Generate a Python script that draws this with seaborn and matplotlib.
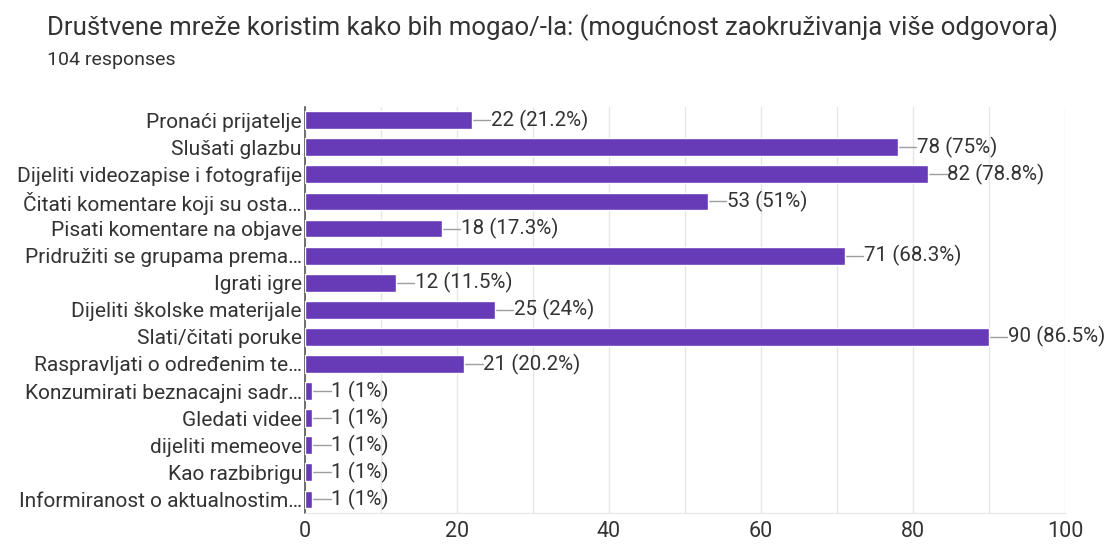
import matplotlib
matplotlib.use("Agg")
import matplotlib.pyplot as plt
import seaborn as sns
import pandas as pd
from matplotlib.ticker import MultipleLocator

# --- data ---
TITLE = "Društvene mreže koristim kako bih mogao/-la: (mogućnost zaokruživanja više odgovora)"
N_RESPONSES = 104
categories = [
    "Pronaći prijatelje",
    "Slušati glazbu",
    "Dijeliti videozapise i fotografije",
    "Čitati komentare koji su osta…",
    "Pisati komentare na objave",
    "Pridružiti se grupama prema…",
    "Igrati igre",
    "Dijeliti školske materijale",
    "Slati/čitati poruke",
    "Raspravljati o određenim te…",
    "Konzumirati beznacajni sadr…",
    "Gledati videe",
    "dijeliti memeove",
    "Kao razbibrigu",
    "Informiranost o aktualnostim…",
]
counts = [22, 78, 82, 53, 18, 71, 12, 25, 90, 21, 1, 1, 1, 1, 1]
x_ticks = [0, 20, 40, 60, 80, 100]

df = pd.DataFrame({"option": categories, "count": counts})

# --- style ---
sns.set_style("white")
plt.rcParams["font.family"] = ["Roboto", "DejaVu Sans"]
TEXT = "#333333"
PURPLE = "#673ab7"

fig = plt.figure(figsize=(11.12, 5.44), dpi=100)
ax = fig.add_axes([0.274, 0.057, 0.684, 0.747])

sns.barplot(data=df, x="count", y="option", orient="h", color=PURPLE,
            saturation=1, width=0.66, ax=ax, zorder=3)

# leader line + value label
for i, v in enumerate(df["count"]):
    pct = round(v / N_RESPONSES * 100, 1)
    ax.plot([v, v + 2.4], [i, i], color="#9e9e9e", lw=1, zorder=2, clip_on=False)
    ax.text(v + 2.5, i, f"{v} ({pct:g}%)", va="center", ha="left",
            fontsize=14.8, color=TEXT)

ax.set_xlim(0, 100)
ax.set_ylim(len(categories) - 0.5, -0.5)
ax.set_xticks(x_ticks)
ax.xaxis.set_minor_locator(MultipleLocator(10))
ax.grid(axis="x", which="both", color="#e6e6e6", lw=1, zorder=0)
ax.set_axisbelow(True)

ax.set_xlabel("")
ax.set_ylabel("")
ax.tick_params(axis="x", labelsize=15.5, labelcolor=TEXT, length=0, pad=6)
ax.tick_params(axis="y", labelsize=15, labelcolor=TEXT, length=0, pad=2)

for side in ["top", "right"]:
    ax.spines[side].set_visible(False)
ax.spines["left"].set_color("#555555")
ax.spines["left"].set_linewidth(1.2)
ax.spines["bottom"].set_color("#e6e6e6")

fig.text(0.042, 0.95, TITLE, fontsize=18.5, color=TEXT, va="center", ha="left")
fig.text(0.042, 0.89, f"{N_RESPONSES} responses", fontsize=14, color=TEXT,
         va="center", ha="left")

fig.savefig("out.png", dpi=100)
